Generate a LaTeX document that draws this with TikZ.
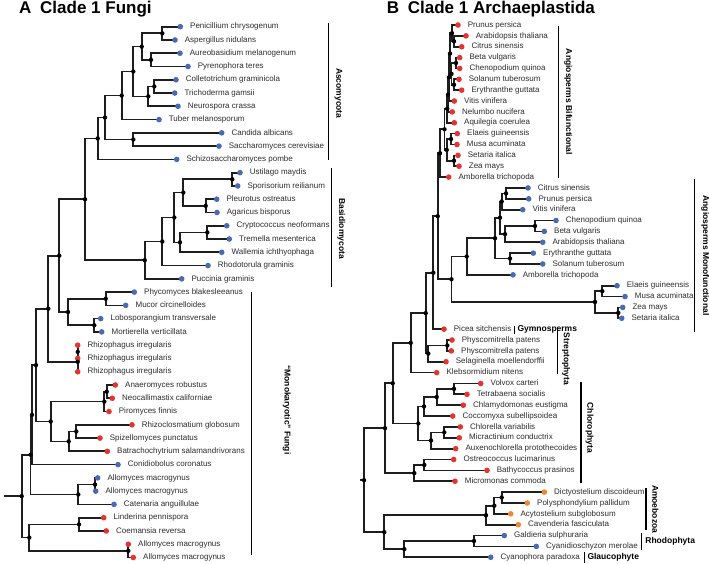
\documentclass[tikz,border=0pt]{standalone}
\usepackage{fontspec}
\setmainfont{Liberation Sans}
\usepackage{xcolor}
\usetikzlibrary{positioning, backgrounds}
\definecolor{leafblue}{RGB}{74, 106, 178}
\definecolor{leafred}{RGB}{226, 52, 48}
\definecolor{leaforange}{RGB}{238, 136, 52}
\definecolor{branchgray}{RGB}{30, 30, 30}
\definecolor{darktext}{RGB}{45, 45, 45}

\begin{document}
\begin{tikzpicture}[x=1pt, y=-1pt,
    leaf/.style={circle, inner sep=0pt, minimum size=5.6pt},
    inode/.style={circle, fill=black, inner sep=0pt, minimum size=4.4pt},
    leaflabel/.style={inner sep=0pt, text height=6pt, text depth=1.6pt, text=darktext, font=\fontsize{8}{9}\selectfont},
    branch/.style={draw=branchgray, line width=1.7pt},
    cladebar/.style={draw=black, line width=1.4pt},
    cladelab/.style={inner sep=0pt, rotate=-90, font=\fontsize{8.5}{10}\bfseries},
    sidelab/.style={inner sep=0pt, font=\fontsize{8.5}{10}\bfseries},
    paneltitle/.style={inner sep=0pt, anchor=base west, font=\fontsize{17}{20}\bfseries}]

    \useasboundingbox (0,0) rectangle (709,564);

    \node[paneltitle] (titleA) at (19,14) {A\hspace{4pt} Clade 1 Fungi};
    \node[paneltitle] (titleB) at (386.7,14) {B\hspace{4pt} Clade 1 Archaeplastida};

    \foreach [count=\i from 0] \nm/\px/\col/\txt in {
        fPen/180.3/leafblue/Penicillium chrysogenum, fAsp/175/leafblue/Aspergillus nidulans,
        fAur/180/leafblue/Aureobasidium melanogenum, fPyr/188/leafblue/Pyrenophora teres,
        fCol/176/leafblue/Colletotrichum graminicola, fTri/174.7/leafblue/Trichoderma gamsii,
        fNeu/178/leafblue/Neurospora crassa, fTub/159/leafblue/Tuber melanosporum,
        fCan/221.7/leafblue/Candida albicans, fSac/219/leafblue/Saccharomyces cerevisiae,
        fSch/176.7/leafblue/Schizosaccharomyces pombe, fUst/240/leafblue/Ustilago maydis,
        fSpo/237.7/leafblue/Sporisorium reilianum, fPle/216.7/leafblue/Pleurotus ostreatus,
        fAga/217/leafblue/Agaricus bisporus, fCry/226.7/leafblue/Cryptococcus neoformans,
        fTre/229.3/leafblue/Tremella mesenterica, fWal/221.7/leafblue/Wallemia ichthyophaga,
        fRho/208/leafblue/Rhodotorula graminis, fPuc/181.7/leafblue/Puccinia graminis,
        fPhy/134.3/leafblue/Phycomyces blakesleeanus, fMuc/125.7/leafblue/Mucor circinelloides,
        fLob/100.7/leafblue/Lobosporangium transversale, fMor/101.7/leafblue/Mortierella verticillata,
        fRiA/77.7/leafred/Rhizophagus irregularis, fRiB/77.7/leafred/Rhizophagus irregularis,
        fRiC/77.7/leafred/Rhizophagus irregularis, fAna/115.3/leafred/Anaeromyces robustus,
        fNeo/112.3/leafred/Neocallimastix californiae, fPir/109/leafred/Piromyces finnis,
        fRhz/132/leafred/Rhizoclosmatium globosum, fSpi/100/leafred/Spizellomyces punctatus,
        fBat/107.3/leafred/Batrachochytrium salamandrivorans, fCon/118/leafblue/Conidiobolus coronatus,
        fAlA/97.7/leafblue/Allomyces macrogynus, fAlB/95.7/leafblue/Allomyces macrogynus,
        fCat/114/leafblue/Catenaria anguillulae, fLin/103.7/leafred/Linderina pennispora,
        fCoe/106.3/leafred/Coemansia reversa, fAlC/128.3/leafred/Allomyces macrogynus,
        fAlD/133.3/leafred/Allomyces macrogynus}{
        \node[leaf, fill=\col] (\nm) at (\px,{26.7+13.27*\i}) {};
        \node[leaflabel, right=6.7pt of \nm] (\nm-lab) {\txt};
    }

    \foreach [count=\i from 0] \nm/\px/\col/\txt in {
        aPru/458/leafred/Prunus persica, aAra/466/leafred/Arabidopsis thaliana,
        aCit/461.7/leafred/Citrus sinensis, aBet/459.7/leafred/Beta vulgaris,
        aChe/459.7/leafred/Chenopodium quinoa, aSol/459/leafred/Solanum tuberosum,
        aEry/461.7/leafred/Erythranthe guttata, aVit/454.3/leafred/Vitis vinifera,
        aNel/452.3/leafred/Nelumbo nucifera, aAqu/454.3/leafred/Aquilegia coerulea,
        aEla/457.3/leafred/Elaeis guineensis, aMus/457/leafred/Musa acuminata,
        aSet/458/leafred/Setaria italica, aZea/459/leafred/Zea mays,
        aAmb/448.7/leafred/Amborella trichopoda, mCit/528/leafblue/Citrus sinensis,
        mPru/528.7/leafblue/Prunus persica, mVit/522.7/leafblue/Vitis vinifera,
        mChe/556/leafblue/Chenopodium quinoa, mBet/544.3/leafblue/Beta vulgaris,
        mAra/542.7/leafblue/Arabidopsis thaliana, mEry/533.3/leafblue/Erythranthe guttata,
        mSol/542.7/leafblue/Solanum tuberosum, mAmb/513/leafblue/Amborella trichopoda,
        mEla/617/leafblue/Elaeis guineensis, mMus/625/leafblue/Musa acuminata,
        mZea/622.7/leafblue/Zea mays, mSet/621.7/leafblue/Setaria italica,
        aPic/444/leafred/Picea sitchensis, aPhA/452/leafred/Physcomitrella patens,
        aPhB/451.3/leafred/Physcomitrella patens, aSel/446/leafred/Selaginella moellendorffii,
        aKle/436.7/leafred/Klebsormidium nitens, aVol/480.7/leafred/Volvox carteri,
        aTet/467/leafred/Tetrabaena socialis, aChl/463.3/leafred/Chlamydomonas eustigma,
        aCoc/452.7/leafred/Coccomyxa subellipsoidea, aChv/460.3/leafred/Chlorella variabilis,
        aMic/459.3/leafred/Micractinium conductrix, aAux/455.7/leafred/Auxenochlorella protothecoides,
        aOst/453.7/leafred/Ostreococcus lucimarinus, aBty/487/leafred/Bathycoccus prasinos,
        aMcm/455/leafred/Micromonas commoda, aDic/544.3/leaforange/Dictyostelium discoideum,
        aPol/527.3/leaforange/Polysphondylium pallidum, aAcy/510.7/leaforange/Acytostelium subglobosum,
        aCav/518.3/leaforange/Cavenderia fasciculata, aGal/504.3/leafblue/Galdieria sulphuraria,
        aCya/536.3/leafblue/Cyanidioschyzon merolae, aCyp/490.7/leafblue/Cyanophora paradoxa}{
        \node[leaf, fill=\col] (\nm) at (\px,{25+10.863*\i}) {};
        \node[leaflabel, right=6.7pt of \nm] (\nm-lab) {\txt};
    }

    \foreach \nm/\px/\py in {
        L1/162.3/33.35, L2/151/59.85, L3/141.7/46.6, L4/154.3/86.45, L5/148.3/96.4,
        L6/133.3/71.5, L7/121.7/95.55, L8/133.3/139.5, L9/105/117.5, L10/97.7/138.45,
        L11/232.3/179.3, L12/205.7/205.85, L13/183.3/192.6, L14/207.3/232.4, L15/180/242.35,
        L16/174.3/217.5, L17/162.3/241.55, L18/144.7/260.2, L19/85/199.3, L20/105.7/298.75,
        L21/94.3/325.25, L22/68/312, L23/59.3/255.65, L24/77.7/351.85, L25/77.7/361.8,
        L26/48.3/308.7, L27/106.7/391.65, L28/104.3/401.6, L29/76.3/431.45, L30/68.7/441.4,
        L31/50.7/421.5, L32/36/365.1, L33/32/414.85, L34/95/484.55, L35/78.3/494.5,
        L36/30.5/454.7, L37/79/524.35, L38/128.3/550.85, L39/29.3/537.6, L40/21.7/496.15,
        R1/454/41.3, R2/452/33.15, R3/456/63, R4/454/84.75, R5/451.5/73.9,
        R6/450/53.5, R7/449/77.3, R8/448/94.6, R9/447.3/108.7, R10/451/139.05,
        R11/454/160.8, R12/446.7/149.9, R13/444.5/129.3, R14/440/153.2, R15/506/193.4,
        R16/501.7/201.5, R17/535/226, R18/505/234.1, R19/500/217.8, R20/510/258.55,
        R21/495/238.2, R22/466.7/256.5, R23/602.3/291.15, R24/618.3/312.9, R25/595/302,
        R26/451.5/279.25, R27/437.7/216.2, R28/433.3/272.7, R29/447.3/345.46, R30/428.3/353.6,
        R31/425.7/313.15, R32/410.7/342.9, R33/454/388.9, R34/436.7/397.05, R35/424/406.56,
        R36/444.3/432.36, R37/431/440.5, R38/418.3/423.5, R39/392.7/383.2, R40/424.3/464.95,
        R41/414.3/473.1, R42/385/428.15, R43/501.7/497.54, R44/494.3/505.7, R45/486/515.2,
        R46/474/541, R47/404.3/549.1, R48/384.3/532.15, R49/364/480.15}
        \node[inode] (\nm) at (\px,\py) {};

    \coordinate (fungiStem) at (4,496.15);
    \coordinate (plantStem) at (360,480.15);

    \begin{scope}[on background layer]
        \fill[white] (0,0) rectangle (709,564);
        \foreach \p/\c in {
            L1/fPen, L1/fAsp, L2/fAur, L2/fPyr, L3/L1, L3/L2, L4/fCol, L4/fTri, L5/L4, L5/fNeu,
            L6/L3, L6/L5, L7/L6, L7/fTub, L8/fCan, L8/fSac, L9/L7, L9/L8, L10/L9, L10/fSch,
            L11/fUst, L11/fSpo, L12/fPle, L12/fAga, L13/L11, L13/L12, L14/fCry, L14/fTre,
            L15/L14, L15/fWal, L16/L13, L16/L15, L17/L16, L17/fRho, L18/L17, L18/fPuc,
            L19/L10, L19/L18, L20/fPhy, L20/fMuc, L21/fLob, L21/fMor, L22/L20, L22/L21,
            L23/L19, L23/L22, L24/fRiA, L24/fRiB, L25/L24, L25/fRiC, L26/L23, L26/L25,
            L27/fAna, L27/fNeo, L28/L27, L28/fPir, L29/fRhz, L29/fSpi, L30/L29, L30/fBat,
            L31/L28, L31/L30, L32/L26, L32/L31, L33/L32, L33/fCon, L34/fAlA, L34/fAlB,
            L35/L34, L35/fCat, L36/L33, L36/L35, L37/fLin, L37/fCoe, L38/fAlC, L38/fAlD,
            L39/L37, L39/L38, L40/L36, L40/L39,
            R1/aAra, R1/aCit, R2/aPru, R2/R1, R3/aBet, R3/aChe, R4/aSol, R4/aEry, R5/R3, R5/R4,
            R6/R2, R6/R5, R7/R6, R7/aVit, R8/R7, R8/aNel, R9/R8, R9/aAqu, R10/aEla, R10/aMus,
            R11/aSet, R11/aZea, R12/R10, R12/R11, R13/R9, R13/R12, R14/R13, R14/aAmb,
            R15/mCit, R15/mPru, R16/R15, R16/mVit, R17/mChe, R17/mBet, R18/R17, R18/mAra,
            R19/R16, R19/R18, R20/mEry, R20/mSol, R21/R19, R21/R20, R22/R21, R22/mAmb,
            R23/mEla, R23/mMus, R24/mZea, R24/mSet, R25/R23, R25/R24, R26/R22, R26/R25,
            R27/R14, R27/R26, R28/R27, R28/aPic, R29/aPhA, R29/aPhB, R30/R29, R30/aSel,
            R31/R28, R31/R30, R32/R31, R32/aKle, R33/aVol, R33/aTet, R34/R33, R34/aChl,
            R35/R34, R35/aCoc, R36/aChv, R36/aMic, R37/R36, R37/aAux, R38/R35, R38/R37,
            R39/R32, R39/R38, R40/aOst, R40/aBty, R41/R40, R41/aMcm, R42/R39, R42/R41,
            R43/aDic, R43/aPol, R44/R43, R44/aAcy, R45/R44, R45/aCav, R46/aGal, R46/aCya,
            R47/R46, R47/aCyp, R48/R45, R48/R47, R49/R42, R49/R48}
            \draw[branch] (\p.center) |- (\c.center);
        \draw[branch] (fungiStem) -- (L40.center);
        \draw[branch] (plantStem) -- (R49.center);
    \end{scope}

    \coordinate (ascTop) at (328.3,23);    \coordinate (ascBot) at (328.3,160);
    \coordinate (basTop) at (331.7,168);   \coordinate (basBot) at (331.7,286.7);
    \coordinate (monTop) at (251.7,291.7); \coordinate (monBot) at (251.7,555);
    \coordinate (bifTop) at (558.3,26);    \coordinate (bifBot) at (558.3,177.7);
    \coordinate (mofTop) at (694.3,179.3); \coordinate (mofBot) at (694.3,331.7);
    \coordinate (gymTop) at (514.3,325.5); \coordinate (gymBot) at (514.3,333.5);
    \coordinate (strTop) at (557.7,326.7); \coordinate (strBot) at (557.7,374);
    \coordinate (chlTop) at (581,381.7);   \coordinate (chlBot) at (581,482.7);
    \coordinate (amoTop) at (646,488.3);   \coordinate (amoBot) at (646,530);
    \coordinate (rhoTop) at (641.7,533.3); \coordinate (rhoBot) at (641.7,550);
    \coordinate (glaTop) at (584.3,551.7); \coordinate (glaBot) at (584.3,562.7);

    \draw[cladebar] (ascTop) -- (ascBot) node[pos=.513, xshift=10pt, cladelab] (ascLab) {Ascomycota};
    \draw[cladebar] (basTop) -- (basBot) node[pos=.51, xshift=9.5pt, cladelab] (basLab) {Basidiomycota};
    \draw[cladebar] (monTop) -- (monBot) node[pos=.449, xshift=35pt, cladelab] (monLab) {``Monokaryotic'' Fungi};
    \draw[cladebar] (bifTop) -- (bifBot) node[midway, xshift=10pt, cladelab] (bifLab) {Angiosperms Bifunctional};
    \draw[cladebar] (mofTop) -- (mofBot) node[midway, xshift=11pt, cladelab] (mofLab) {Angiosperms Monofunctional};
    \draw[cladebar] (strTop) -- (strBot) node[pos=.68, xshift=8.3pt, cladelab] (strLab) {Streptophyta};
    \draw[cladebar] (chlTop) -- (chlBot) node[pos=.456, xshift=8.5pt, cladelab] (chlLab) {Chlorophyta};
    \draw[cladebar] (amoTop) -- (amoBot) node[midway, xshift=9.5pt, cladelab] (amoLab) {Amoebozoa};
    \draw[cladebar] (gymTop) -- (gymBot) node[midway, right=2.5pt, sidelab] (gymLab) {Gymnosperms};
    \draw[cladebar] (rhoTop) -- (rhoBot) node[midway, right=3pt, sidelab] (rhoLab) {Rhodophyta};
    \draw[cladebar] (glaTop) -- (glaBot) node[midway, right=2.5pt, sidelab] (glaLab) {Glaucophyte};
\end{tikzpicture}
\end{document}
